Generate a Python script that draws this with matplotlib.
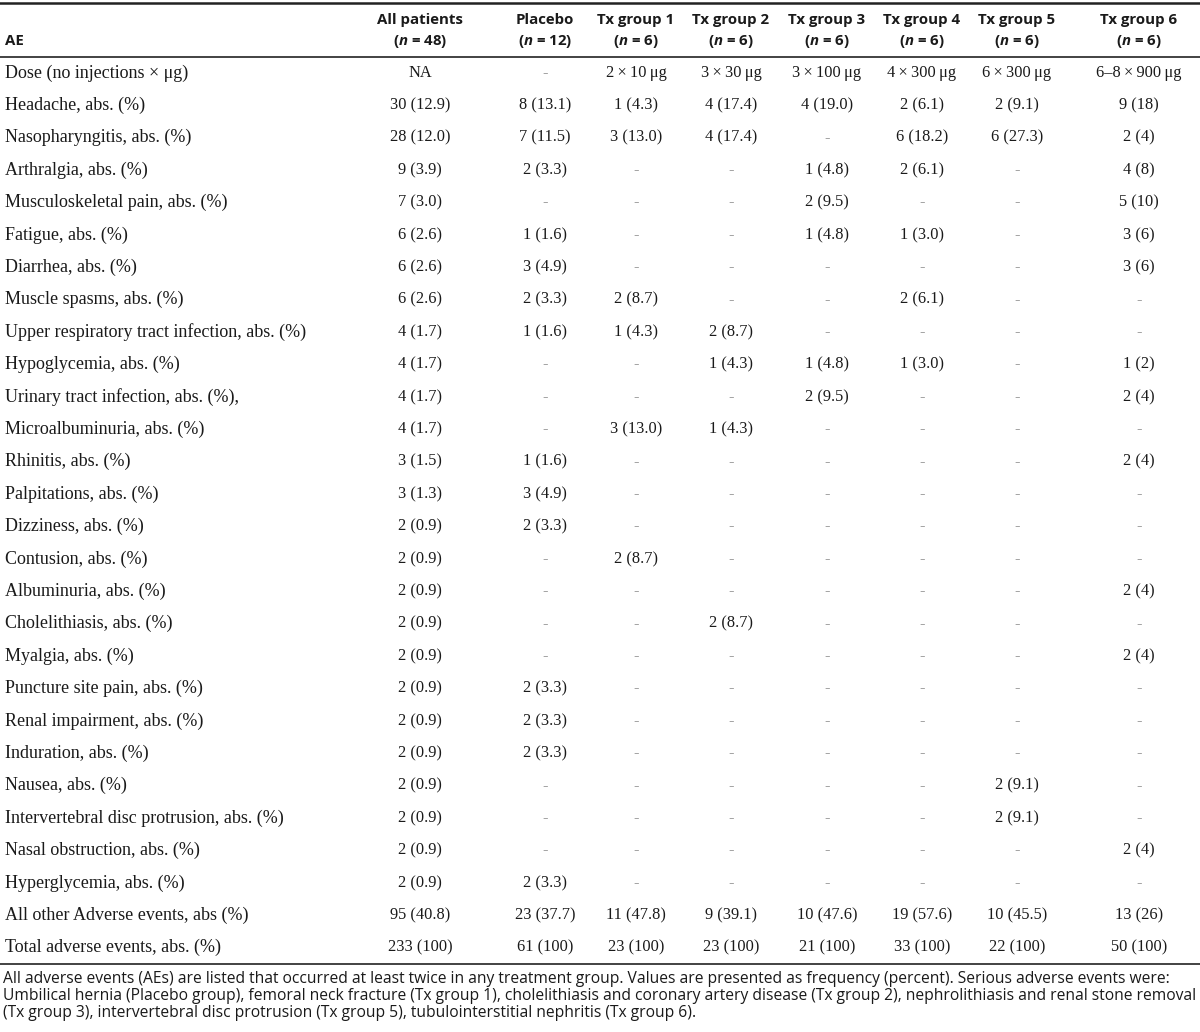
"""
Adverse events by treatment group, drawn as a table
"""

import matplotlib
matplotlib.use('Agg')
import matplotlib.pyplot as plt

# --- data ---------------------------------------------------------------
ae_labels = [
    'Dose (no injections \u00d7 \u03bcg)',
    'Headache, abs. (%)',
    'Nasopharyngitis, abs. (%)',
    'Arthralgia, abs. (%)',
    'Musculoskeletal pain, abs. (%)',
    'Fatigue, abs. (%)',
    'Diarrhea, abs. (%)',
    'Muscle spasms, abs. (%)',
    'Upper respiratory tract infection, abs. (%)',
    'Hypoglycemia, abs. (%)',
    'Urinary tract infection, abs. (%),',
    'Microalbuminuria, abs. (%)',
    'Rhinitis, abs. (%)',
    'Palpitations, abs. (%)',
    'Dizziness, abs. (%)',
    'Contusion, abs. (%)',
    'Albuminuria, abs. (%)',
    'Cholelithiasis, abs. (%)',
    'Myalgia, abs. (%)',
    'Puncture site pain, abs. (%)',
    'Renal impairment, abs. (%)',
    'Induration, abs. (%)',
    'Nausea, abs. (%)',
    'Intervertebral disc protrusion, abs. (%)',
    'Nasal obstruction, abs. (%)',
    'Hyperglycemia, abs. (%)',
    'All other Adverse events, abs (%)',
    'Total adverse events, abs. (%)',
]

col_headers = [
    ('All patients', '48'),
    ('Placebo', '12'),
    ('Tx group 1', '6'),
    ('Tx group 2', '6'),
    ('Tx group 3', '6'),
    ('Tx group 4', '6'),
    ('Tx group 5', '6'),
    ('Tx group 6', '6'),
]

all_patients = ['NA', '30 (12.9)', '28 (12.0)', '9 (3.9)', '7 (3.0)', '6 (2.6)', '6 (2.6)',
                '6 (2.6)', '4 (1.7)', '4 (1.7)', '4 (1.7)', '4 (1.7)', '3 (1.5)', '3 (1.3)',
                '2 (0.9)', '2 (0.9)', '2 (0.9)', '2 (0.9)', '2 (0.9)', '2 (0.9)', '2 (0.9)',
                '2 (0.9)', '2 (0.9)', '2 (0.9)', '2 (0.9)', '2 (0.9)', '95 (40.8)', '233 (100)']
placebo = ['-', '8 (13.1)', '7 (11.5)', '2 (3.3)', '-', '1 (1.6)', '3 (4.9)',
           '2 (3.3)', '1 (1.6)', '-', '-', '-', '1 (1.6)', '3 (4.9)',
           '2 (3.3)', '-', '-', '-', '-', '2 (3.3)', '2 (3.3)',
           '2 (3.3)', '-', '-', '-', '2 (3.3)', '23 (37.7)', '61 (100)']
tx1 = ['2\u2009\u00d7\u200910\u2009\u03bcg', '1 (4.3)', '3 (13.0)', '-', '-', '-', '-',
       '2 (8.7)', '1 (4.3)', '-', '-', '3 (13.0)', '-', '-',
       '-', '2 (8.7)', '-', '-', '-', '-', '-',
       '-', '-', '-', '-', '-', '11 (47.8)', '23 (100)']
tx2 = ['3\u2009\u00d7\u200930\u2009\u03bcg', '4 (17.4)', '4 (17.4)', '-', '-', '-', '-',
       '-', '2 (8.7)', '1 (4.3)', '-', '1 (4.3)', '-', '-',
       '-', '-', '-', '2 (8.7)', '-', '-', '-',
       '-', '-', '-', '-', '-', '9 (39.1)', '23 (100)']
tx3 = ['3\u2009\u00d7\u2009100\u2009\u03bcg', '4 (19.0)', '-', '1 (4.8)', '2 (9.5)', '1 (4.8)', '-',
       '-', '-', '1 (4.8)', '2 (9.5)', '-', '-', '-',
       '-', '-', '-', '-', '-', '-', '-',
       '-', '-', '-', '-', '-', '10 (47.6)', '21 (100)']
tx4 = ['4\u2009\u00d7\u2009300\u2009\u03bcg', '2 (6.1)', '6 (18.2)', '2 (6.1)', '-', '1 (3.0)', '-',
       '2 (6.1)', '-', '1 (3.0)', '-', '-', '-', '-',
       '-', '-', '-', '-', '-', '-', '-',
       '-', '-', '-', '-', '-', '19 (57.6)', '33 (100)']
tx5 = ['6\u2009\u00d7\u2009300\u2009\u03bcg', '2 (9.1)', '6 (27.3)', '-', '-', '-', '-',
       '-', '-', '-', '-', '-', '-', '-',
       '-', '-', '-', '-', '-', '-', '-',
       '-', '2 (9.1)', '2 (9.1)', '-', '-', '10 (45.5)', '22 (100)']
tx6 = ['6\u20138\u2009\u00d7\u2009900\u2009\u03bcg', '9 (18)', '2 (4)', '4 (8)', '5 (10)', '3 (6)', '3 (6)',
       '-', '-', '1 (2)', '2 (4)', '-', '2 (4)', '-',
       '-', '-', '2 (4)', '-', '2 (4)', '-', '-',
       '-', '-', '-', '2 (4)', '-', '13 (26)', '50 (100)']

footnote = [
    'All adverse events (AEs) are listed that occurred at least twice in any treatment group. '
    'Values are presented as frequency (percent). Serious adverse events were:',
    'Umbilical hernia (Placebo group), femoral neck fracture (Tx group 1), cholelithiasis and '
    'coronary artery disease (Tx group 2), nephrolithiasis and renal stone removal',
    '(Tx group 3), intervertebral disc protrusion (Tx group 5), tubulointerstitial nephritis (Tx group 6).',
]

columns = [all_patients, placebo, tx1, tx2, tx3, tx4, tx5, tx6]

# --- layout ---------------------------------------------------------------
W, H = 1200, 1032
col_x = [420, 545, 636, 731, 827, 922, 1017, 1139]
row_y0, row_dy = 73, 32.4

serif = ['Liberation Serif', 'DejaVu Serif']
sans = ['Open Sans', 'DejaVu Sans']

plt.rcParams['mathtext.fontset'] = 'custom'
plt.rcParams['mathtext.bfit'] = 'Open Sans:italic:bold'
plt.rcParams['mathtext.rm'] = 'Open Sans'
plt.rcParams['mathtext.bf'] = 'Open Sans:bold'

fig = plt.figure(figsize=(W / 100, H / 100), dpi=100)
ax = fig.add_axes([0, 0, 1, 1])
ax.set_xlim(0, W)
ax.set_ylim(H, 0)
ax.axis('off')

ink = '#1a1a1a'

# rules
ax.axhline(2.5, color='#222222', linewidth=1.8)
ax.axhline(56.5, color='#222222', linewidth=1.2)
ax.axhline(963.5, color='#222222', linewidth=1.2)

# header
hsize = 10.8
ax.text(5, 41, 'AE', family=sans, fontweight='bold', fontsize=hsize,
        ha='left', va='center', color=ink)
for x, (name, n) in zip(col_x, col_headers):
    ax.text(x, 20, name, family=sans, fontweight='bold', fontsize=hsize,
            ha='center', va='center', color=ink)
    ax.text(x, 41, '($\\mathbfit{n}$ = ' + n + ')', family=sans, fontweight='bold',
            fontsize=hsize, ha='center', va='center', color=ink)

# body
lsize, vsize = 13, 11.8
for i, label in enumerate(ae_labels):
    y = row_y0 + i * row_dy
    ax.text(5, y, label, family=serif, fontsize=lsize, ha='left', va='center', color=ink)
    for x, col in zip(col_x, columns):
        val = col[i]
        c = '#888888' if val == '-' else ink
        ax.text(x, y, val, family=serif, fontsize=vsize, ha='center', va='center', color=c)

# footnote
for j, line in enumerate(footnote):
    ax.text(3, 979 + j * 17, line, family=sans, fontsize=11.25, ha='left', va='center',
            color=ink)

fig.savefig('out.png', dpi=100)
